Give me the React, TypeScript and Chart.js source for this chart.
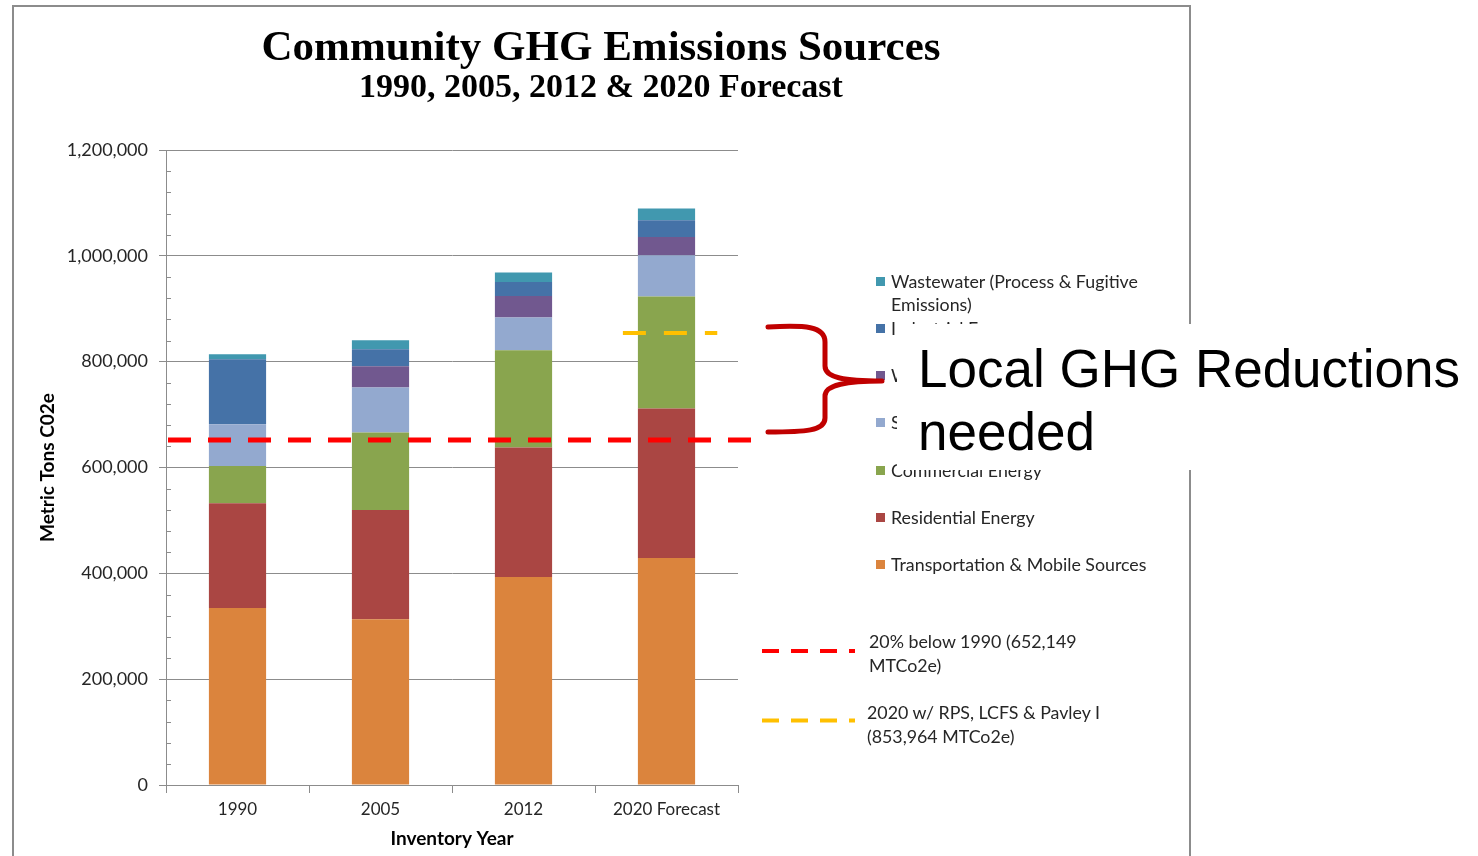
import React, { useEffect, useRef } from 'react';
import { Chart, registerables } from 'chart.js';

Chart.register(...registerables);

// ---------- data ----------
const categories = ['1990', '2005', '2012', '2020 Forecast'];

const transportation = [334400, 313000, 393000, 428900];
const residential = [197900, 206700, 244600, 282400];
const commercial = [70500, 146300, 183900, 211700];
const solidWaste = [78900, 85000, 61900, 78100];
const waterEnergy = [0, 40300, 40800, 34600];
const industrial = [122800, 32100, 26400, 31600];
const wastewater = [9500, 17100, 17800, 22100];

const seriesLabels = [
  'Transportation & Mobile Sources',
  'Residential Energy',
  'Commercial Energy',
  'Solid Waste',
  'Water Conveyance',
  'Industrial Energy',
  'Wastewater (Process & Fugitive Emissions)',
];
const seriesData = [transportation, residential, commercial, solidWaste, waterEnergy, industrial, wastewater];

const target1990Value = 652149;
const forecast2020Value = 853964;
const refLineLabels = ['20% below 1990 (652,149 MTCo2e)', '2020 w/ RPS, LCFS & Pavley I (853,964 MTCo2e)'];

const yTickValues = [0, 200000, 400000, 600000, 800000, 1000000, 1200000];

const titleText = 'Community GHG Emissions Sources';
const subtitleText = '1990, 2005, 2012 & 2020 Forecast';
const yAxisTitle = 'Metric Tons C02e';
const xAxisTitle = 'Inventory Year';
const calloutLines = ['Local GHG Reductions', 'needed'];

// ---------- styles ----------
const seriesColors = ['#DB843D', '#AA4643', '#89A54E', '#93A9CF', '#71588F', '#4572A7', '#4198AF'];
const refLineColors = ['#FF0000', '#FFC000'];
const GRID = '#8c8c8c';
const TEXT = '#262626';
const LEGEND_FONT = 'Lato, "Open Sans", sans-serif';

const yMin = yTickValues[0];
const yMax = yTickValues[yTickValues.length - 1];
const majorStep = yTickValues[1] - yTickValues[0];
const minorStep = majorStep / 5;

const overlayPlugin = {
  id: 'overlayLines',
  afterDatasetsDraw(chart: any) {
    const { ctx, chartArea, scales } = chart;
    const y = scales.y;
    const x = scales.x;
    ctx.save();
    // minor ticks inside the axis
    ctx.strokeStyle = GRID;
    ctx.lineWidth = 1;
    ctx.setLineDash([]);
    for (let v = yMin + minorStep; v < yMax; v += minorStep) {
      if (Math.round(v) % majorStep === 0) continue;
      const py = Math.round(y.getPixelForValue(v)) + 0.5;
      ctx.beginPath();
      ctx.moveTo(chartArea.left, py);
      ctx.lineTo(chartArea.left + 5, py);
      ctx.stroke();
    }
    // red target line
    const ry = y.getPixelForValue(target1990Value);
    ctx.setLineDash([23, 17]);
    ctx.lineWidth = 5;
    ctx.strokeStyle = refLineColors[0];
    ctx.beginPath();
    ctx.moveTo(chartArea.left + 2, ry);
    ctx.lineTo(chartArea.right + 19, ry);
    ctx.stroke();
    // yellow forecast line around the last bar
    const cw = (chartArea.right - chartArea.left) / categories.length;
    const cx = x.getPixelForValue(categories.length - 1);
    const yy = y.getPixelForValue(forecast2020Value);
    ctx.setLineDash([23, 18]);
    ctx.lineWidth = 4;
    ctx.strokeStyle = refLineColors[1];
    ctx.beginPath();
    ctx.moveTo(cx - 0.305 * cw, yy);
    ctx.lineTo(cx + 0.355 * cw, yy);
    ctx.stroke();
    ctx.restore();
  },
};

function ChartCanvas() {
  const ref = useRef<HTMLCanvasElement | null>(null);
  useEffect(() => {
    if (!ref.current) return;
    const chart = new Chart(ref.current, {
      type: 'bar',
      data: {
        labels: categories,
        datasets: seriesData.map((d, i) => ({
          label: seriesLabels[i],
          data: d,
          backgroundColor: seriesColors[i],
          borderWidth: 0,
          barPercentage: 0.5,
          categoryPercentage: 0.8,
        })),
      },
      options: {
        animation: false,
        responsive: true,
        maintainAspectRatio: false,
        layout: { padding: 0 },
        plugins: {
          legend: { display: false },
          tooltip: { enabled: false },
          title: {
            display: true,
            text: titleText,
            color: '#000',
            font: { family: '"Liberation Serif", serif', size: 43, weight: 'bold', lineHeight: 1.0 },
            padding: { top: 22, bottom: 0 },
          },
          subtitle: {
            display: true,
            text: subtitleText,
            color: '#000',
            font: { family: '"Liberation Serif", serif', size: 34, weight: 'bold', lineHeight: 1.1 },
            padding: { top: 0, bottom: 42.6 },
          },
        },
        scales: {
          x: {
            stacked: true,
            offset: true,
            grid: { display: true, drawOnChartArea: false, drawTicks: true, tickLength: 8, color: GRID, offset: true },
            border: { display: true, color: GRID, width: 1 },
            ticks: { color: TEXT, font: { family: LEGEND_FONT, size: 17 }, padding: 6 },
            title: {
              display: true,
              text: xAxisTitle,
              color: '#000',
              font: { family: LEGEND_FONT, size: 19, weight: 'bold', lineHeight: 1.2 },
              padding: { top: 0, bottom: 6 },
            },
            afterFit: (s: any) => { s.height = 71; },
          },
          y: {
            stacked: true,
            min: yMin,
            max: yMax,
            grid: { color: GRID, tickLength: 7, drawTicks: true, lineWidth: 1 },
            border: { display: true, color: GRID, width: 1 },
            ticks: {
              stepSize: majorStep,
              color: TEXT,
              font: { family: LEGEND_FONT, size: 18 },
              padding: 11,
              callback: (v: any) => Number(v).toLocaleString('en-US'),
            },
            title: {
              display: true,
              text: yAxisTitle,
              color: '#000',
              font: { family: LEGEND_FONT, size: 19, weight: 'bold', lineHeight: 1.2 },
              padding: { top: 24, bottom: 0 },
            },
            afterFit: (s: any) => { s.width = 154; },
          },
          spacer: {
            type: 'linear',
            position: 'right',
            display: true,
            grid: { display: false, drawTicks: false },
            border: { display: false },
            ticks: { display: false },
            afterFit: (s: any) => { s.width = 452; },
          },
        },
      } as any,
      plugins: [overlayPlugin],
    });
    return () => chart.destroy();
  }, []);
  return <canvas ref={ref} />;
}

export default function App() {
  const legendItems = seriesLabels.map((l, i) => ({ label: l, color: seriesColors[i] })).reverse();
  const legendText: React.CSSProperties = { position: 'absolute', fontFamily: LEGEND_FONT, fontSize: 17.8, color: TEXT };
  return (
    <div style={{ position: 'fixed', left: 0, top: 0, width: 1478, height: 856, background: '#fff', overflow: 'hidden' }}>
      {/* frame */}
      <div style={{ position: 'absolute', left: 12, top: 5, width: 1179, height: 900, boxSizing: 'border-box', border: `2px solid ${GRID}` }} />
      {/* chart */}
      <div style={{ position: 'absolute', left: 12, top: 5, width: 1178, height: 851 }}>
        <ChartCanvas />
      </div>
      {/* series legend */}
      {legendItems.map((it, i) => {
        const cy = 281 + 47.3 * i;
        return (
          <React.Fragment key={it.label}>
            <div style={{ position: 'absolute', left: 876, top: cy - 4.5, width: 9, height: 9, background: it.color }} />
            <div style={{ ...legendText, left: 891, top: cy - 11.5, width: 290, lineHeight: '23px' }}>
              {it.label}
            </div>
          </React.Fragment>
        );
      })}
      {/* reference line legend */}
      <svg width={1478} height={856} style={{ position: 'absolute', left: 0, top: 0, pointerEvents: 'none' }}>
        <line x1={762} y1={651} x2={855} y2={651} stroke={refLineColors[0]} strokeWidth={4} strokeDasharray="17 12" />
        <line x1={762} y1={720.5} x2={855} y2={720.5} stroke={refLineColors[1]} strokeWidth={4} strokeDasharray="17 12" />
      </svg>
      <div style={{ ...legendText, left: 869, top: 629, width: 245, lineHeight: '24px' }}>
        {refLineLabels[0]}
      </div>
      <div style={{ ...legendText, left: 867, top: 700, width: 250, lineHeight: '24px' }}>
        {refLineLabels[1]}
      </div>
      {/* callout box */}
      <div style={{ position: 'absolute', left: 897, top: 324, width: 600, height: 146, background: '#fff', boxSizing: 'border-box', paddingLeft: 21, paddingTop: 13, fontFamily: '"Liberation Sans", Arial, sans-serif', fontSize: 53, lineHeight: '63px', color: '#000', whiteSpace: 'nowrap' }}>
        {calloutLines.map((t) => (<div key={t}>{t}</div>))}
      </div>
      {/* brace */}
      <svg width={1478} height={856} style={{ position: 'absolute', left: 0, top: 0, pointerEvents: 'none' }}>
        <path
          d="M768,327 C805,325 825,326 825,342 L825,366 C825,378 845,381 882,381 C845,381 825,385 825,396 L825,418 C825,431 805,432 768,432"
          fill="none" stroke="#C00000" strokeWidth={5} strokeLinecap="round" strokeLinejoin="round"
        />
      </svg>
    </div>
  );
}
